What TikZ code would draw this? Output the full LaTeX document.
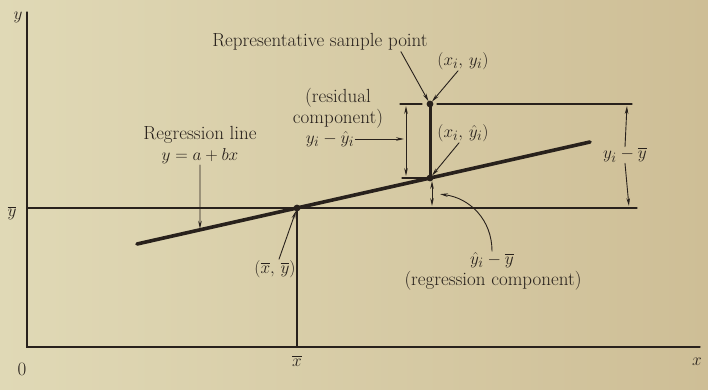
\documentclass[tikz,border=0pt]{standalone}
\usepackage{amsmath}
\usepackage{tikz}
\usetikzlibrary{arrows.meta,calc}
\definecolor{paperlight}{RGB}{224,217,182}
\definecolor{paperdark}{RGB}{206,190,150}
\definecolor{ink}{RGB}{40,33,28}

\begin{document}
\begin{tikzpicture}[x=1pt,y=-1pt,line cap=round,
    every node/.style={font=\fontsize{19}{21}\selectfont,text=ink,inner sep=1pt},
    thinline/.style={ink,line width=1.1pt},
    tip/.style={ink,line width=0.9pt,-{Stealth[length=8pt,width=3.6pt]},shorten >=1pt},
    dimline/.style={ink,line width=0.9pt,{Stealth[length=8pt,width=3.6pt]}-{Stealth[length=8pt,width=3.6pt]}}]
  \useasboundingbox (0,0) rectangle (708,390);
  \shade[left color=paperlight,right color=paperdark] (0,0) rectangle (708,390);

  % axes and means
  \coordinate (O) at (27,347);
  \coordinate (ytop) at (27,12);
  \coordinate (xend) at (700,347);
  \coordinate (ybarL) at (27,208);
  \coordinate (ybarR) at (637,208);
  \coordinate (mean) at (297,208);
  \coordinate (xbar) at (297,347);
  \draw[ink,line width=1.3pt] (ytop) -- (O) -- (xend);
  \draw[thinline] (ybarL) -- (ybarR);
  \draw[thinline] (mean) -- (xbar);
  \node (ylab) at (18,17) {$y$};
  \node (olab) at (22,369) {0};
  \node (xlab) at (697,362) {$x$};
  \node (ybarlab) at (12,213) {$\overline{y}$};
  \node (xbarlab) at (297,361) {$\overline{x}$};

  % regression line and sample point
  \coordinate (lineL) at (137,244);
  \coordinate (lineR) at (590,142);
  \coordinate (fit) at (430,178);
  \coordinate (obs) at (430,104);
  \coordinate (onLine) at ($(lineL)!0.139!(lineR)$);
  \draw[ink,line width=3.6pt] (lineL) -- (lineR);
  \draw[ink,line width=3pt] (obs) -- (fit);
  \foreach \p in {mean,fit,obs} \fill[ink] (\p) circle (3.4pt);

  % extension lines
  \draw[thinline] (437,104) -- (632,104);
  \draw[thinline] (400,104) -- (422,104);
  \draw[thinline] (402,178) -- (430,178);

  % residual component
  \draw[dimline] (406,106) -- (406,176);
  \coordinate (residTip) at (405,139);
  \node[align=center] (resid) at (338,108) {(residual\\component)};
  \node (residlab) at (330,139) {$y_i - \hat{y}_i$};
  \draw[tip] (residlab.east) -- (residTip);

  % total deviation
  \node (dev) at (625,155) {$y_i - \overline{y}$};
  \coordinate (devTop) at (627,105);
  \coordinate (devBot) at (629,207);
  \draw[tip] (dev.north) -- (devTop);
  \draw[tip] (dev.south) -- (devBot);

  % regression component
  \draw[dimline] (432,181) -- (432,206);
  \coordinate (regTip) at (439,194);
  \node (regdiff) at (492,260) {$\hat{y}_i - \overline{y}$};
  \node (regcomp) at (493,281) {(regression component)};
  \draw[tip] (regdiff.north) .. controls (492,220) and (470,198) .. (regTip);

  % labels with pointers
  \node (rep) at (320,42) {Representative sample point};
  \node (obslab) at (463,61) {$(x_i,\, y_i)$};
  \node (fitlab) at (463,133) {$(x_i,\, \hat{y}_i)$};
  \node[align=center] (reglab) at (200,145) {Regression line\\$y = a + bx$};
  \node (meanlab) at (275,269) {$(\overline{x},\, \overline{y})$};
  \draw[tip,shorten >=3pt] ([xshift=-28pt]rep.south east) -- (obs);
  \draw[tip,shorten >=3pt] ([xshift=-5pt]obslab.south) -- (obs);
  \draw[tip,shorten >=3pt] ([xshift=-4pt]fitlab.south) -- (fit);
  \draw[tip] (reglab.south) -- (onLine);
  \draw[tip,shorten >=3pt] ([xshift=4pt]meanlab.north) -- (mean);
\end{tikzpicture}
\end{document}
